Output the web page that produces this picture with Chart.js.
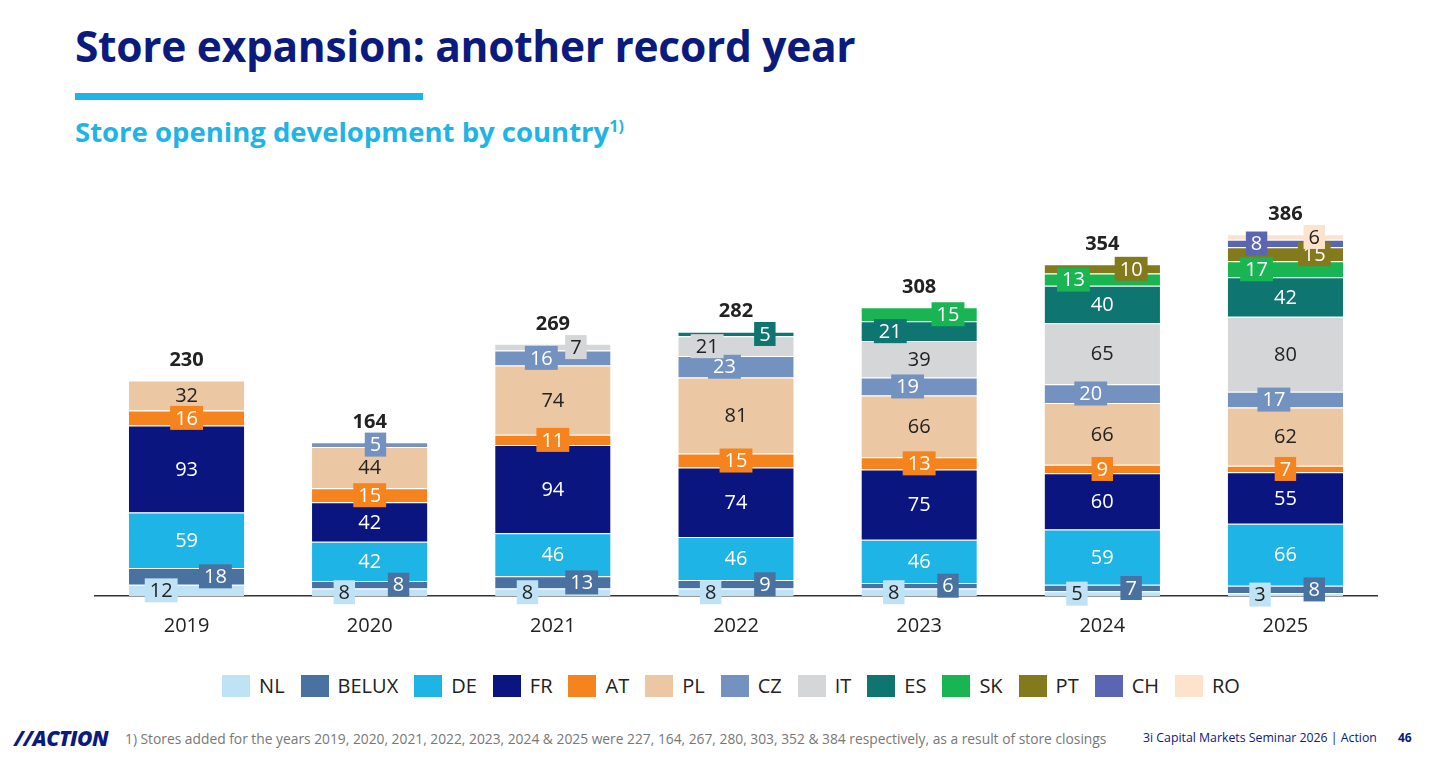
<!DOCTYPE html>
<html><head><meta charset="utf-8">
<script src="https://cdn.jsdelivr.net/npm/chart.js@4"></script>
<style>
body{margin:0;width:1438px;height:763px;background:#fff;font-family:"Open Sans",sans-serif;position:relative;overflow:hidden}
#title{position:absolute;left:75px;top:17px;font-size:42.5px;font-weight:700;color:#0a1a7d;letter-spacing:-0.3px}
#bar{position:absolute;left:75px;top:93px;width:348px;height:7px;background:#1eb4e6}
#sub{position:absolute;left:75px;top:113px;font-size:27.5px;font-weight:700;color:#1eb4e6}
#sub sup{font-size:16px}
#wrap{position:absolute;left:40px;top:176px;width:1390px;height:480px}
#legend{position:absolute;left:12px;width:1438px;top:672px;display:flex;justify-content:center;font-size:20px;color:#222}
#legend span{display:flex;align-items:center;margin:0 8px}
#legend i{display:inline-block;width:28px;height:22px;margin-right:9px}
#logo{position:absolute;left:14px;top:724px;font-size:21px;font-weight:900;font-style:italic;color:#0a1a7d;letter-spacing:-0.5px}
#foot{position:absolute;left:125px;top:729px;font-size:13.8px;color:#777}
#right{position:absolute;left:1143px;top:729px;font-size:12.3px;color:#0a1a7d}
#pg{position:absolute;left:1398px;top:729px;font-size:12px;color:#0a1a7d;font-weight:700}
</style></head><body>
<div id="title">Store expansion: another record year</div>
<div id="bar"></div>
<div id="sub">Store opening development by country<sup>1)</sup></div>
<div id="wrap"><canvas id="c" width="1390" height="480"></canvas></div>
<div id="legend"></div>
<div id="logo">//ACTION</div>
<div id="foot">1) Stores added for the years 2019, 2020, 2021, 2022, 2023, 2024 &amp; 2025 were 227, 164, 267, 280, 303, 352 &amp; 384 respectively, as a result of store closings</div>
<div id="right">3i Capital Markets Seminar 2026 | Action</div>
<div id="pg">46</div>
<script>
const years=["2019","2020","2021","2022","2023","2024","2025"];
const totals=[230,164,269,282,308,354,386];
const NL=[12,8,8,8,8,5,3];
const BELUX=[18,8,13,9,6,7,8];
const DE=[59,42,46,46,46,59,66];
const FR=[93,42,94,74,75,60,55];
const AT=[16,15,11,15,13,9,7];
const PL=[32,44,74,81,66,66,62];
const CZ=[0,5,16,23,19,20,17];
const IT=[0,0,7,21,39,65,80];
const ES=[0,0,0,5,21,40,42];
const SK=[0,0,0,0,15,13,17];
const PT=[0,0,0,0,0,10,15];
const CH=[0,0,0,0,0,0,8];
const RO=[0,0,0,0,0,0,6];
const series=[
 ["NL",NL,"#bfe3f5","#222",-0.22],["BELUX",BELUX,"#4a72a0","#fff",0.25],["DE",DE,"#1eb4e6","#fff",0],
 ["FR",FR,"#0a1580","#fff",0],["AT",AT,"#f5841f","#fff",0],["PL",PL,"#ecc7a3","#222",0],
 ["CZ",CZ,"#7392c0","#fff",-0.1],["IT",IT,"#d5d6d8","#222",0.2],["ES",ES,"#0e7571","#fff",0.25],
 ["SK",SK,"#1ab553","#fff",-0.25],["PT",PT,"#827a1d","#fff",0.25],["CH",CH,"#5b66b3","#fff",-0.25],["RO",RO,"#fde2cc","#222",0.25]];
document.getElementById('legend').innerHTML=series.map(s=>`<span><i style="background:${s[2]}"></i>${s[0]}</span>`).join('');
const labels={id:'labels',afterDatasetsDraw(ch){
 const ctx=ch.ctx;ctx.save();ctx.textAlign='center';ctx.textBaseline='middle';
 ch.data.datasets.forEach((ds,di)=>{const meta=ch.getDatasetMeta(di);const s=series[di];
  meta.data.forEach((b,i)=>{const v=ds.data[i];if(!v)return;
   const h=b.base-b.y;const w=b.width;let x=b.x,y=(b.y+b.base)/2;
   ctx.font='20px "Open Sans"';
   let off=s[4];
   if(di==9&&i==4)off=0.25; if(di==6&&i==1)off=0.05; if(di==7&&i==3)off=-0.25; if(di==8&&i==4)off=-0.25;
   if(h<24){x=b.x+off*w;const tw=ctx.measureText(v).width+10;
    ctx.fillStyle=s[2];ctx.fillRect(x-tw/2,y-12,tw,24);ctx.fillStyle=s[3];ctx.fillText(v,x,y+1);}
   else{if(di==7&&i==3||di==8&&i==4)x=b.x+off*w;ctx.fillStyle=s[3];ctx.fillText(v,x,y+1);}
  });});
 const last=ch.getDatasetMeta(series.length-1);
 ctx.font='bold 20px "Open Sans"';ctx.fillStyle='#222';
 totals.forEach((t,i)=>{const x=last.data[i].x;const y=ch.scales.y.getPixelForValue(t);ctx.fillText(t,x,y-20);});
 ctx.restore();}};
new Chart(document.getElementById('c'),{type:'bar',
 data:{labels:years,datasets:series.map(s=>({label:s[0],data:s[1],backgroundColor:s[2],borderColor:'#fff',borderWidth:{top:1,bottom:0,left:0,right:0},borderSkipped:false,barPercentage:0.63,categoryPercentage:1}))},
 options:{responsive:false,animation:false,layout:{padding:{left:55,right:53}},plugins:{legend:{display:false},tooltip:{enabled:false}},
  scales:{x:{stacked:true,grid:{display:false,drawTicks:false},border:{color:'#333',width:1.5},ticks:{padding:18,color:'#222',font:{size:20,family:'Open Sans'}}},
   y:{stacked:true,display:false,min:0,max:448}}},
 plugins:[labels]});
</script></body></html>
